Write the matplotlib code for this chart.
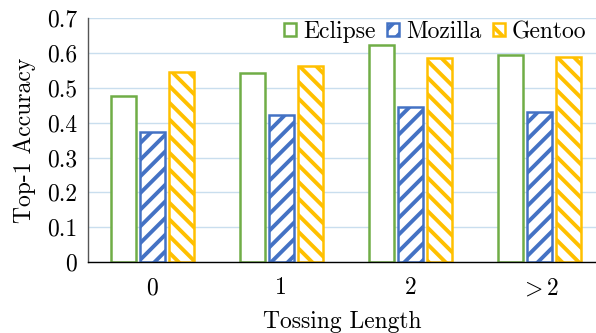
import numpy as np
import matplotlib
matplotlib.use('Agg')
import matplotlib.pyplot as plt

plt.rcParams['font.family'] = 'serif'
plt.rcParams['font.serif'] = ['cmr10']
plt.rcParams['mathtext.fontset'] = 'cm'
plt.rcParams['axes.formatter.use_mathtext'] = True
plt.rcParams['hatch.linewidth'] = 2.8

# data
categories = ['0', '1', '2', '$>2$']
eclipse = [0.478, 0.542, 0.623, 0.595]
mozilla = [0.373, 0.423, 0.446, 0.432]
gentoo = [0.545, 0.564, 0.586, 0.588]
series = ['Eclipse', 'Mozilla', 'Gentoo']
yticks = [0, 0.1, 0.2, 0.3, 0.4, 0.5, 0.6, 0.7]
yticklabels = ['0', '0.1', '0.2', '0.3', '0.4', '0.5', '0.6', '0.7']

colors = ['#70AD47', '#4472C4', '#FFC000']
hatches = ['', '//', '\\\\']

fig = plt.figure(figsize=(5.96, 3.33), dpi=100)
ax = fig.add_axes([88/596, 0.213, 1 - 88/596, 0.732])

x = np.arange(len(categories))
w = 0.19
off = 0.225
for i, (vals, name) in enumerate(zip([eclipse, mozilla, gentoo], series)):
    ax.bar(x + (i - 1)*off, vals, w, facecolor='white', edgecolor=colors[i],
           hatch=hatches[i], linewidth=1.8, label=name, zorder=3)

fs = 17
ax.set_xlim(-0.5, 3.44)
ax.set_ylim(0, 0.7)
ax.set_yticks(yticks)
ax.set_yticklabels(yticklabels)
ax.set_xticks(x)
ax.set_xticklabels(categories)
ax.tick_params(axis='both', length=0, labelsize=fs, pad=8)
ax.tick_params(axis='x', pad=11)
ax.yaxis.grid(True, color='#C9DEEE', linewidth=1.0, zorder=0)
ax.set_axisbelow(True)
for s in ['top', 'right']:
    ax.spines[s].set_visible(False)
ax.spines['left'].set_color('#555555')
ax.spines['left'].set_linewidth(1.0)
ax.spines['bottom'].set_color('black')
ax.spines['bottom'].set_linewidth(1.0)
ax.spines['bottom'].set_zorder(4)

ax.set_xlabel('Tossing Length', fontsize=fs, labelpad=8)
ax.set_ylabel('Top-1 Accuracy', fontsize=fs, labelpad=8)

ax.legend(loc='upper right', ncol=3, frameon=False, fontsize=fs,
          handlelength=0.5, handleheight=0.5, handletextpad=0.3,
          columnspacing=0.5, borderaxespad=0.0, bbox_to_anchor=(1.0, 1.028))

fig.savefig('out.png', dpi=100)
